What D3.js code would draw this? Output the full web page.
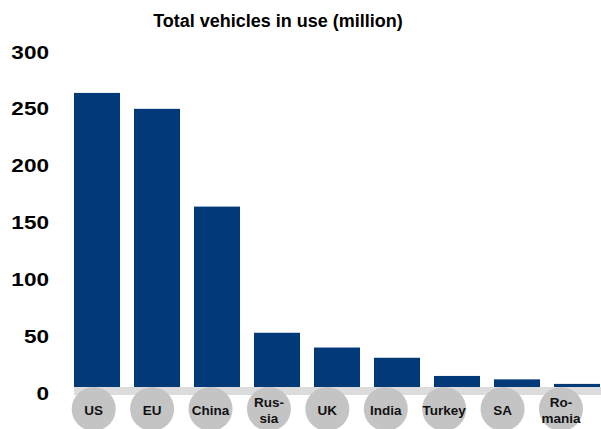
<!DOCTYPE html>
<html>
<head>
<meta charset="utf-8">
<script src="https://cdn.jsdelivr.net/npm/d3@7"></script>
<style>
  html, body { margin: 0; padding: 0; background: #ffffff; }
  svg { display: block; font-family: "Liberation Sans", Arial, Helvetica, sans-serif; }
</style>
</head>
<body>
<svg id="chart" width="601" height="429"></svg>
<script>
// Total vehicles in use, in millions
const categories = ["US", "EU", "China", "Russia", "UK", "India", "Turkey", "SA", "Romania"];
const categoryLines = [["US"], ["EU"], ["China"], ["Rus-", "sia"], ["UK"], ["India"], ["Turkey"], ["SA"], ["Ro-", "mania"]];
const vehicles = [264, 250, 164, 53, 40, 31, 15, 12, 8];
const yTicks = [0, 50, 100, 150, 200, 250, 300];
const title = "Total vehicles in use (million)";

const svg = d3.select("#chart");

const x = d3.scaleBand()
  .domain(categories)
  .range([74, 600])
  .paddingInner(0.233)
  .paddingOuter(0);

const xBadge = d3.scalePoint()
  .domain(categories)
  .range([93.7, 561]);

const y = d3.scaleLinear()
  .domain([0, 300])
  .range([393, 52]);

// Title
svg.append("text")
  .attr("x", 278)
  .attr("y", 27)
  .attr("text-anchor", "middle")
  .attr("font-size", 18)
  .attr("font-weight", "bold")
  .attr("fill", "#000")
  .text(title);

// Value axis labels (wide bold numerals)
svg.append("g")
  .selectAll("g")
  .data(yTicks)
  .join("g")
  .attr("transform", d => `translate(49,${y(d) + 6.6}) scale(1.22,1)`)
  .append("text")
  .attr("text-anchor", "end")
  .attr("font-size", 18.5)
  .attr("font-weight", "bold")
  .attr("fill", "#000")
  .text(d => d);

// Bars
svg.append("g")
  .selectAll("rect")
  .data(vehicles)
  .join("rect")
  .attr("x", (d, i) => x(categories[i]))
  .attr("width", x.bandwidth())
  .attr("y", d => y(d))
  .attr("height", d => y(0) - y(d))
  .attr("fill", "#023a79");

// Base strip
svg.append("rect")
  .attr("x", x.range()[0])
  .attr("y", 387)
  .attr("width", 601 - x.range()[0])
  .attr("height", 8)
  .attr("fill", "#dcdcdd");

// Category badges
const badges = svg.append("g")
  .selectAll("g")
  .data(categories)
  .join("g")
  .attr("transform", d => `translate(${xBadge(d)},409)`);

badges.append("circle")
  .attr("r", 22)
  .attr("fill", "#c4c4c5");

badges.append("text")
  .attr("text-anchor", "middle")
  .attr("font-size", 13.5)
  .attr("font-weight", "bold")
  .attr("fill", "#111")
  .each(function (d, i) {
    const lines = categoryLines[i];
    const t = d3.select(this);
    const offsets = lines.length === 1 ? [5.5] : [-2, 13.5];
    lines.forEach((ln, j) => {
      t.append("tspan").attr("x", 0).attr("y", offsets[j]).text(ln);
    });
  });
</script>
</body>
</html>
